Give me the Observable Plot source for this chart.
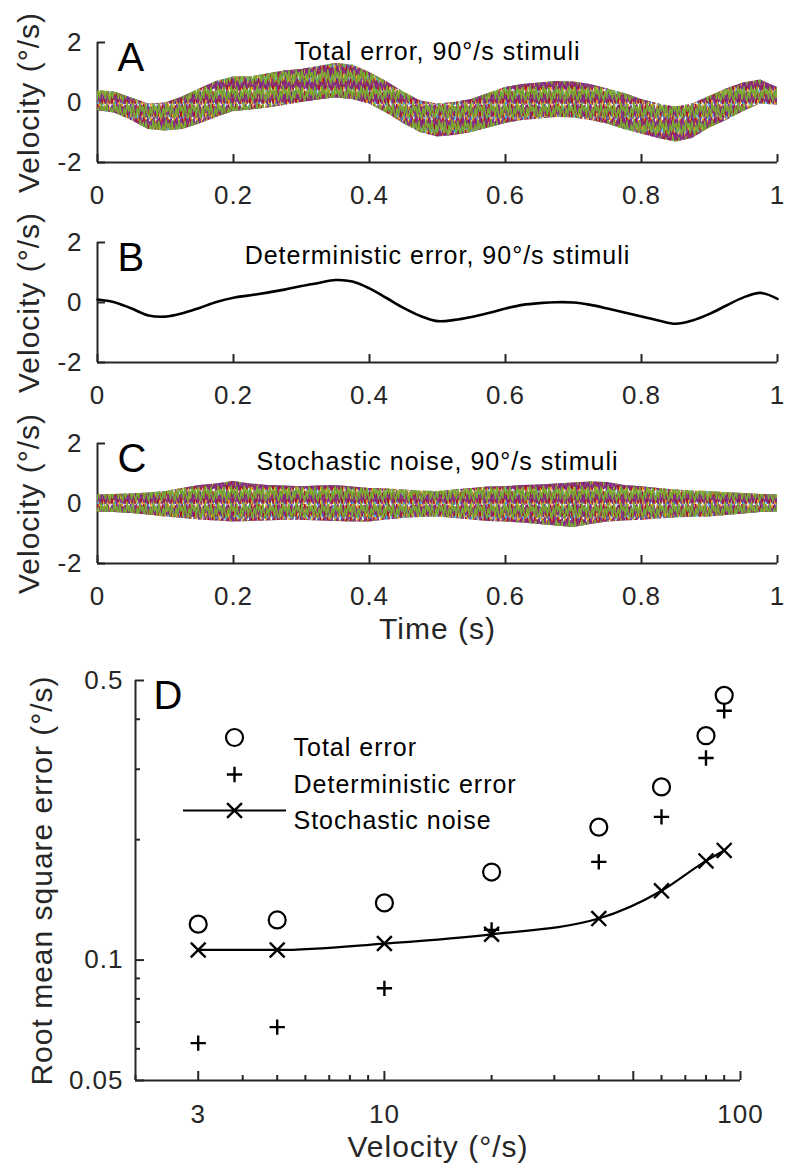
<!DOCTYPE html>
<html>
<head>
<meta charset="utf-8">
<script src="https://cdn.jsdelivr.net/npm/d3@7"></script>
<script src="https://cdn.jsdelivr.net/npm/@observablehq/plot@0.6"></script>
<style>
html,body{margin:0;padding:0;background:#fff;}
#chart{position:relative;width:786px;height:1173px;overflow:hidden;background:#fff;}
#chart svg.panel{position:absolute;left:0;}
</style>
</head>
<body>
<svg width="0" height="0" style="position:absolute">
<defs>
<pattern id="noiseA" patternUnits="userSpaceOnUse" width="17" height="15">
<g fill="none" stroke-width="1.3" stroke-linejoin="round">
<polyline stroke="#0072BD" points="0,3 1.3,12 2.7,6 4,14 5.4,1 6.6,9 8,4 9.3,13 10.7,7 12,15 13.4,2 14.6,10 16,5 17,3"/>
<polyline stroke="#D95319" points="0,10 1.3,2 2.7,13 4,5 5.4,11 6.6,0 8,14 9.3,6 10.7,12 12,3 13.4,8 14.6,15 16,1 17,10"/>
<polyline stroke="#4DBEEE" points="0,7 1.3,15 2.7,1 4,9 5.4,5 6.6,13 8,2 9.3,10 10.7,0 12,11 13.4,14 14.6,4 16,12 17,7"/>
</g>
</pattern>
<pattern id="noiseB" patternUnits="userSpaceOnUse" width="23" height="13">
<g fill="none" stroke-width="1.3" stroke-linejoin="round">
<polyline stroke="#EDB120" points="0,2 1.4,10 2.9,4 4.3,13 5.7,7 7.2,0 8.6,11 10,5 11.5,12 12.9,1 14.4,8 15.8,13 17.2,3 18.7,9 20.1,6 21.5,12 23,2"/>
<polyline stroke="#A2142F" points="0,9 1.4,1 2.9,12 4.3,6 5.7,0 7.2,10 8.6,3 10,13 11.5,6 12.9,11 14.4,2 15.8,7 17.2,12 18.7,4 20.1,13 21.5,1 23,9"/>
<polyline stroke="#7E2F8E" points="0,5 1.4,13 2.9,0 4.3,8 5.7,11 7.2,3 8.6,12 10,1 11.5,9 12.9,4 14.4,13 15.8,0 17.2,10 18.7,6 20.1,1 21.5,8 23,5"/>
</g>
</pattern>
<pattern id="noiseC" patternUnits="userSpaceOnUse" width="13" height="17">
<g fill="none" stroke="#77AC30" stroke-width="1.4" stroke-linejoin="round">
<polyline points="0,4 1.4,14 2.9,2 4.3,11 5.8,16 7.2,6 8.7,13 10.1,1 11.6,9 13,4"/>
</g>
</pattern>
</defs>
</svg>
<div id="chart"></div>
<script>
// ---------- data ----------
const time = [0, 0.025, 0.05, 0.075, 0.1, 0.125, 0.15, 0.175, 0.2, 0.225, 0.25, 0.275, 0.3, 0.325, 0.35, 0.375, 0.4, 0.425, 0.45, 0.475, 0.5, 0.525, 0.55, 0.575, 0.6, 0.625, 0.65, 0.675, 0.7, 0.725, 0.75, 0.775, 0.8, 0.825, 0.85, 0.875, 0.9, 0.925, 0.95, 0.975, 1];
const deterministic = [0.10, 0.01, -0.20, -0.43, -0.47, -0.36, -0.18, 0.02, 0.16, 0.24, 0.33, 0.43, 0.55, 0.65, 0.75, 0.70, 0.47, 0.15, -0.18, -0.45, -0.62, -0.58, -0.48, -0.35, -0.20, -0.08, -0.02, 0.01, 0.00, -0.08, -0.20, -0.33, -0.47, -0.60, -0.71, -0.60, -0.38, -0.10, 0.17, 0.32, 0.12];
const totalUpper = [0.40, 0.35, 0.15, -0.05, -0.02, 0.18, 0.45, 0.70, 0.85, 0.85, 0.95, 1.05, 1.10, 1.20, 1.30, 1.25, 1.00, 0.70, 0.35, 0.05, -0.05, 0.00, 0.10, 0.30, 0.50, 0.60, 0.65, 0.70, 0.68, 0.60, 0.45, 0.30, 0.10, -0.05, -0.15, -0.05, 0.20, 0.45, 0.65, 0.75, 0.50];
const totalLower = [-0.27, -0.35, -0.60, -0.90, -0.95, -0.90, -0.72, -0.50, -0.30, -0.25, -0.18, -0.10, 0.00, 0.08, 0.15, 0.10, -0.05, -0.35, -0.70, -1.00, -1.15, -1.10, -1.00, -0.85, -0.70, -0.60, -0.55, -0.50, -0.52, -0.60, -0.72, -0.90, -1.05, -1.20, -1.32, -1.20, -0.85, -0.60, -0.30, -0.05, -0.10];
const noiseUpper = [0.28, 0.30, 0.32, 0.35, 0.40, 0.50, 0.60, 0.65, 0.73, 0.65, 0.60, 0.58, 0.56, 0.58, 0.60, 0.55, 0.50, 0.48, 0.45, 0.42, 0.40, 0.45, 0.50, 0.55, 0.56, 0.60, 0.62, 0.65, 0.68, 0.72, 0.70, 0.60, 0.56, 0.50, 0.45, 0.42, 0.40, 0.36, 0.33, 0.30, 0.28];
const noiseLower = [-0.28, -0.30, -0.33, -0.38, -0.45, -0.50, -0.55, -0.58, -0.62, -0.60, -0.58, -0.56, -0.56, -0.58, -0.60, -0.62, -0.62, -0.55, -0.50, -0.47, -0.45, -0.50, -0.55, -0.60, -0.62, -0.65, -0.70, -0.75, -0.80, -0.70, -0.62, -0.58, -0.56, -0.52, -0.48, -0.46, -0.45, -0.40, -0.35, -0.30, -0.28];

const timeTicks = [0, 0.2, 0.4, 0.6, 0.8, 1];
const velocityTicks = [-2, 0, 2];

const velocity = [3, 5, 10, 20, 40, 60, 80, 90];
const totalError = [0.123, 0.126, 0.139, 0.166, 0.215, 0.271, 0.364, 0.459];
const deterministicError = [0.062, 0.068, 0.085, 0.119, 0.176, 0.228, 0.320, 0.420];
const stochasticNoise = [0.106, 0.106, 0.110, 0.116, 0.127, 0.149, 0.177, 0.188];

const velocityDomainD = [2, 100];
const velocityMajorTicks = [3, 10, 50, 100];
const velocityMinorTicks = [2, 4, 5, 6, 7, 8, 9, 20, 30, 40, 60, 70, 80, 90];
const rmsDomain = [0.05, 0.5];
const rmsMajorTicks = [0.05, 0.1, 0.5];
const rmsMinorTicks = [0.06, 0.07, 0.08, 0.09, 0.2, 0.3, 0.4];

const panelLetters = ["A", "B", "C", "D"];
const panelTitles = ["Total error, 90°/s stimuli", "Deterministic error, 90°/s stimuli", "Stochastic noise, 90°/s stimuli"];
const legendLabels = ["Total error", "Deterministic error", "Stochastic noise"];
const yLabelTime = "Velocity (°/s)";
const xLabelTime = "Time (s)";
const yLabelD = "Root mean square error (°/s)";
const xLabelD = "Velocity (°/s)";

// ---------- drawing ----------
const W = 786;
const INK = "#262626";
const FONT = '"Liberation Sans", Arial, Helvetica, sans-serif';
const baseStyle = {fontFamily: FONT, fontSize: "26px", letterSpacing: "1px", color: INK, background: "transparent", overflow: "visible"};
const chart = document.getElementById("chart");
const noiseFills = ["url(#noiseA)", "url(#noiseB)", "url(#noiseC)"];

const TL = 97, TR = 9, TFH = 120;
const TFW = W - TL - TR;

function timeAxes() {
  return [
    Plot.tickX(timeTicks, {x: d => d, insetTop: TFH - 8, stroke: INK, strokeWidth: 2}),
    Plot.tickY(velocityTicks, {y: d => d, insetRight: TFW - 8, stroke: INK, strokeWidth: 2}),
    Plot.ruleY([velocityTicks[0]], {stroke: INK, strokeWidth: 2}),
    Plot.ruleX([timeTicks[0]], {stroke: INK, strokeWidth: 2}),
    Plot.axisX(timeTicks, {tickSize: 0, tickPadding: 23, tickFormat: d => String(d), label: null, fontSize: 26}),
    Plot.axisY(velocityTicks, {tickSize: 0, tickPadding: 15, tickFormat: d => String(d), label: null, fontSize: 26})
  ];
}

function decorations(i, titleDy) {
  return [
    Plot.text([panelTitles[i]], {frameAnchor: "top", lineAnchor: "top", textAnchor: "middle", dy: titleDy, fontSize: 25, fill: "black"}),
    Plot.text([panelLetters[i]], {frameAnchor: "top-left", lineAnchor: "top", textAnchor: "start", dx: 20, fontSize: 40, fill: "black", letterSpacing: 0}),
    Plot.text([yLabelTime], {frameAnchor: "left", textAnchor: "middle", lineAnchor: "middle", rotate: -90, dx: -68, fontSize: 30, letterSpacing: "2px"})
  ];
}

function noiseBand(data, lo, hi) {
  return noiseFills.map(fill => Plot.areaY(data, {x: "t", y1: lo, y2: hi, fill, curve: "linear"}));
}

function place(svg, top) {
  svg.classList.add("panel");
  svg.style.top = top + "px";
  chart.appendChild(svg);
}

const rows = time.map((t, i) => ({
  t, det: deterministic[i],
  tHi: totalUpper[i], tLo: totalLower[i],
  nHi: noiseUpper[i], nLo: noiseLower[i]
}));

const timeX = {domain: [timeTicks[0], timeTicks[timeTicks.length - 1]]};
const timeY = {domain: [velocityTicks[0], velocityTicks[velocityTicks.length - 1]]};

// Panel A
place(Plot.plot({
  width: W, height: 202, marginTop: 42, marginBottom: 40, marginLeft: TL, marginRight: TR,
  x: timeX, y: timeY, style: baseStyle,
  marks: [
    ...timeAxes(),
    ...noiseBand(rows, "tLo", "tHi"),
    ...decorations(0, 0)
  ]
}), 0);

// Panel B
place(Plot.plot({
  width: W, height: 202, marginTop: 42, marginBottom: 40, marginLeft: TL, marginRight: TR,
  x: timeX, y: timeY, style: baseStyle,
  marks: [
    ...timeAxes(),
    Plot.line(rows, {x: "t", y: "det", stroke: "black", strokeWidth: 2.6, curve: "catmull-rom"}),
    ...decorations(1, 4)
  ]
}), 200);

// Panel C
place(Plot.plot({
  width: W, height: 253, marginTop: 43, marginBottom: 90, marginLeft: TL, marginRight: TR,
  x: timeX, y: timeY, style: baseStyle,
  marks: [
    ...timeAxes(),
    ...noiseBand(rows, "nLo", "nHi"),
    ...decorations(2, 9),
    Plot.text([xLabelTime], {frameAnchor: "bottom", textAnchor: "middle", dy: 75, fontSize: 30, letterSpacing: "2px"})
  ]
}), 400);

// Panel D
const DL = 135, DR = 46, DT = 40, DFH = 400;
const DFW = W - DL - DR;
const rowsD = velocity.map((v, i) => ({v, total: totalError[i], det: deterministicError[i], stoch: stochasticNoise[i]}));
const legendLine = {draw(ctx) { ctx.moveTo(-51.5, 0); ctx.lineTo(51.5, 0); }};

place(Plot.plot({
  width: W, height: 533, marginTop: DT, marginBottom: 93, marginLeft: DL, marginRight: DR,
  x: {type: "log", domain: velocityDomainD},
  y: {type: "log", domain: rmsDomain},
  style: baseStyle,
  marks: [
    Plot.tickX(velocityMajorTicks, {x: d => d, insetTop: DFH - 9, stroke: INK, strokeWidth: 2}),
    Plot.tickX(velocityMinorTicks, {x: d => d, insetTop: DFH - 5, stroke: INK, strokeWidth: 2}),
    Plot.tickY(rmsMajorTicks, {y: d => d, insetRight: DFW - 9, stroke: INK, strokeWidth: 2}),
    Plot.tickY(rmsMinorTicks, {y: d => d, insetRight: DFW - 5, stroke: INK, strokeWidth: 2}),
    Plot.ruleY([rmsDomain[0]], {stroke: INK, strokeWidth: 2}),
    Plot.ruleX([velocityDomainD[0]], {stroke: INK, strokeWidth: 2}),
    Plot.axisX(velocityMajorTicks, {tickSize: 0, tickPadding: 24, tickFormat: d => String(d), label: null, fontSize: 26}),
    Plot.axisY(rmsMajorTicks, {tickSize: 0, tickPadding: 12, tickFormat: d => String(d), label: null, fontSize: 26}),
    Plot.line(rowsD, {x: "v", y: "stoch", stroke: "black", strokeWidth: 2.2, curve: "monotone-x"}),
    Plot.dot(rowsD, {x: "v", y: "total", symbol: "circle", r: 8.5, stroke: "black", fill: "none", strokeWidth: 2.2}),
    Plot.dot(rowsD, {x: "v", y: "det", symbol: "plus", r: 5, stroke: "black", fill: "none", strokeWidth: 2.4}),
    Plot.dot(rowsD, {x: "v", y: "stoch", symbol: "times", r: 6.8, stroke: "black", fill: "none", strokeWidth: 2.4}),
    // legend
    Plot.dot([legendLabels[0]], {x: null, y: null, frameAnchor: "top-left", dx: 99, dy: 57, symbol: "circle", r: 8.5, stroke: "black", fill: "none", strokeWidth: 2.2}),
    Plot.dot([legendLabels[1]], {x: null, y: null, frameAnchor: "top-left", dx: 99, dy: 94, symbol: "plus", r: 5, stroke: "black", fill: "none", strokeWidth: 2.4}),
    Plot.dot([legendLabels[2]], {x: null, y: null, frameAnchor: "top-left", dx: 99, dy: 130, symbol: legendLine, stroke: "black", fill: "none", strokeWidth: 2.2}),
    Plot.dot([legendLabels[2]], {x: null, y: null, frameAnchor: "top-left", dx: 99, dy: 130, symbol: "times", r: 6.8, stroke: "black", fill: "none", strokeWidth: 2.4}),
    Plot.text([legendLabels[0]], {frameAnchor: "top-left", dx: 158, dy: 58, textAnchor: "start", fontSize: 25, fill: "black", letterSpacing: "0.3px"}),
    Plot.text([legendLabels[1]], {frameAnchor: "top-left", dx: 158, dy: 95, textAnchor: "start", fontSize: 25, fill: "black", letterSpacing: "0.3px"}),
    Plot.text([legendLabels[2]], {frameAnchor: "top-left", dx: 158, dy: 131, textAnchor: "start", fontSize: 25, fill: "black", letterSpacing: "0.3px"}),
    Plot.text([panelLetters[3]], {frameAnchor: "top-left", lineAnchor: "top", textAnchor: "start", dx: 18, fontSize: 40, fill: "black", letterSpacing: 0}),
    Plot.text([yLabelD], {frameAnchor: "left", textAnchor: "middle", lineAnchor: "middle", rotate: -90, dx: -93, fontSize: 30, letterSpacing: "2px"}),
    Plot.text([xLabelD], {frameAnchor: "bottom", textAnchor: "middle", dy: 76, fontSize: 30, letterSpacing: "2px"})
  ]
}), 640);
</script>
</body>
</html>
